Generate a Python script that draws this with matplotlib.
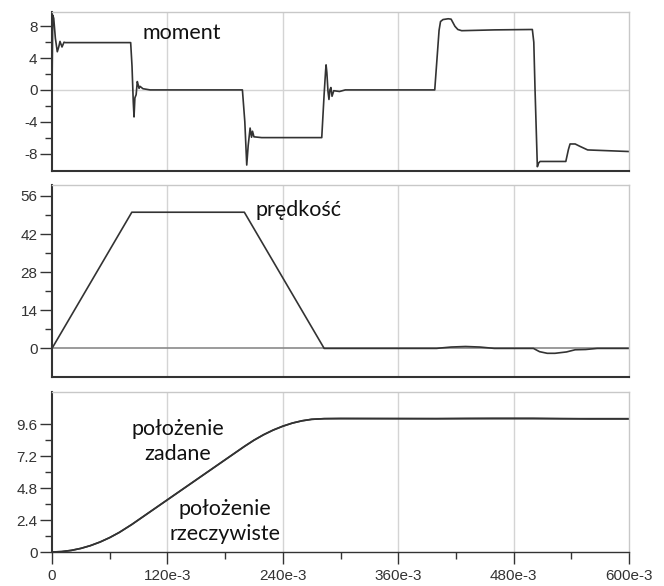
import matplotlib
matplotlib.use("Agg")
import matplotlib.pyplot as plt
from matplotlib.ticker import FixedLocator

# torque (moment) trace, time in s
moment_t = [0.0, 0.0008, 0.0018, 0.0035, 0.0055, 0.0070, 0.0083, 0.0095, 0.0104, 0.0125, 0.0140,
            0.0818, 0.0832, 0.0845, 0.0853, 0.0862, 0.0875, 0.0887, 0.0897, 0.0905, 0.0915,
            0.0946, 0.102, 0.110,
            0.198, 0.2005, 0.2025, 0.2040, 0.2060, 0.2075, 0.2085, 0.2100, 0.2140, 0.218,
            0.2805, 0.2830, 0.2845, 0.2850, 0.2858, 0.2870, 0.2880, 0.2890, 0.2900, 0.2912,
            0.2930, 0.2990, 0.305,
            0.398, 0.4004, 0.4025, 0.4040, 0.4066, 0.4120, 0.4150, 0.4190, 0.4220, 0.4260,
            0.4600, 0.4995,
            0.5010, 0.5023, 0.5047, 0.5060, 0.5075, 0.5343, 0.5370, 0.5387, 0.5440, 0.5490,
            0.5570, 0.600]
moment_v = [0.0, 9.4, 9.0, 6.5, 4.8, 5.4, 6.1, 5.7, 5.4, 6.0, 5.95,
            5.95, 3.0, -1.5, -3.4, -1.0, -0.6, 1.05, 0.6, 0.2, 0.45,
            0.15, 0.0, 0.0,
            0.0, -4.0, -9.45, -7.0, -4.8, -5.95, -5.2, -5.9, -5.95, -6.0,
            -6.0, -0.5, 2.4, 3.15, 2.2, -0.2, -1.2, 0.0, 0.3, -0.8,
            -0.1, -0.2, 0.0,
            0.0, 4.0, 7.5, 8.6, 8.85, 8.95, 8.9, 8.0, 7.6, 7.45,
            7.55, 7.6,
            6.0, 0.0, -9.66, -9.2, -9.0, -9.0, -7.5, -6.8, -6.8, -7.1,
            -7.55, -7.75]

# speed (prędkość) trace
speed_t = [0.0, 0.083, 0.200, 0.283, 0.400, 0.4025, 0.415, 0.430, 0.445, 0.460,
           0.5006, 0.507, 0.515, 0.523, 0.535, 0.544, 0.555, 0.567, 0.600]
speed_v = [0.0, 50.0, 50.0, 0.0, 0.0, 0.1, 0.5, 0.7, 0.5, 0.0,
           0.0, -1.2, -1.8, -1.8, -1.3, -0.5, -0.4, 0.0, 0.0]

# position: reference (zadane) and measured (rzeczywiste)
pos_t = [0.0, 0.01, 0.02, 0.03, 0.04, 0.05, 0.06, 0.07, 0.083, 0.10, 0.12, 0.14, 0.16,
         0.18, 0.20, 0.21, 0.22, 0.23, 0.24, 0.25, 0.26, 0.27, 0.283, 0.30, 0.40,
         0.43, 0.46, 0.50, 0.53, 0.56, 0.60]
pos_set = [0.0, 0.03, 0.12, 0.27, 0.48, 0.75, 1.08, 1.47, 2.07, 2.92, 3.92, 4.92, 5.92,
           6.92, 7.92, 8.39, 8.80, 9.15, 9.44, 9.67, 9.84, 9.95, 10.0, 10.0, 10.0,
           10.0, 10.0, 10.0, 10.0, 10.0, 10.0]
pos_act = [0.0, 0.03, 0.12, 0.27, 0.48, 0.75, 1.08, 1.47, 2.06, 2.91, 3.91, 4.91, 5.91,
           6.91, 7.91, 8.38, 8.79, 9.14, 9.43, 9.67, 9.84, 9.95, 10.0, 10.02, 10.0,
           10.02, 10.03, 10.03, 10.0, 9.98, 9.98]

x_major = [0.0, 0.12, 0.24, 0.36, 0.48, 0.60]
x_labels = ["0", "120e-3", "240e-3", "360e-3", "480e-3", "600e-3"]
x_minor = [0.06, 0.18, 0.30, 0.42, 0.54]

W, H = 664, 586
fig = plt.figure(figsize=(W / 100, H / 100), dpi=100)

def box(top, bottom):
    return [52 / W, 1 - bottom / H, 577 / W, (bottom - top) / H]

ax1 = fig.add_axes(box(12, 171))
ax2 = fig.add_axes(box(185, 377))
ax3 = fig.add_axes(box(392, 552))

dark = "#333333"
grid = "#d4d4d4"
tick_font = {"family": "Liberation Sans", "size": 11, "color": dark}
note_font = dict(family="Lato", fontsize=15.5, color="#111111")

for ax in (ax1, ax2, ax3):
    ax.set_xlim(0, 0.6)
    for s in ("top", "right"):
        ax.spines[s].set_color("#c8c8c8")
        ax.spines[s].set_linewidth(1.0)
    for s in ("left", "bottom"):
        ax.spines[s].set_color(dark)
        ax.spines[s].set_linewidth(1.5)
    for xv in x_major[1:-1]:
        ax.axvline(xv, color=grid, lw=1.0, zorder=0)
    ax.tick_params(axis="y", which="major", length=8.5, width=1.0, color=dark,
                   labelsize=11, labelcolor=dark, pad=2)
    ax.tick_params(axis="y", which="minor", length=4.7, width=1.0, color=dark)

# torque
ax1.axhline(0, color=grid, lw=1.0, zorder=0)
ax1.plot(moment_t, moment_v, color=dark, lw=1.2)
ax1.set_ylim(-10.2, 9.8)
ax1.yaxis.set_major_locator(FixedLocator([-8, -4, 0, 4, 8]))
ax1.yaxis.set_minor_locator(FixedLocator([-6, -2, 2, 6]))
ax1.set_yticklabels(["-8", "-4", "0", "4", "8"], fontdict=tick_font)
ax1.text(0.135, 7.2, "moment", ha="center", va="center", **note_font)

# speed
ax2.axhline(0, color="#8a8a8a", lw=1.2, zorder=1)
ax2.plot(speed_t, speed_v, color=dark, lw=1.2, zorder=2)
ax2.set_ylim(-10.5, 60)
ax2.yaxis.set_major_locator(FixedLocator([0, 14, 28, 42, 56]))
ax2.yaxis.set_minor_locator(FixedLocator([7, 21, 35, 49]))
ax2.set_yticklabels(["0", "14", "28", "42", "56"], fontdict=tick_font)
ax2.text(0.256, 51.0, "prędkość", ha="center", va="center", **note_font)

# position
ax3.plot(pos_t, pos_set, color=dark, lw=1.2)
ax3.plot(pos_t, pos_act, color=dark, lw=1.2)
ax3.set_ylim(0, 12)
ax3.yaxis.set_major_locator(FixedLocator([0, 2.4, 4.8, 7.2, 9.6]))
ax3.yaxis.set_minor_locator(FixedLocator([1.2, 3.6, 6.0, 8.4]))
ax3.set_yticklabels(["0", "2.4", "4.8", "7.2", "9.6"], fontdict=tick_font)
ax3.spines["bottom"].set_linewidth(1.0)
ax3.text(0.131, 8.3, "położenie\nzadane", ha="center", va="center",
         linespacing=1.3, **note_font)
ax3.text(0.180, 2.3, "położenie\nrzeczywiste", ha="center", va="center",
         linespacing=1.3, **note_font)

for ax in (ax1, ax2):
    ax.set_xticks([])
ax3.xaxis.set_major_locator(FixedLocator(x_major))
ax3.xaxis.set_minor_locator(FixedLocator(x_minor))
ax3.set_xticklabels(x_labels, fontdict=tick_font)
ax3.tick_params(axis="x", which="major", length=8.5, width=1.0, color=dark, pad=4)
ax3.tick_params(axis="x", which="minor", length=4.7, width=1.0, color=dark)

fig.savefig("out.png", dpi=100)
